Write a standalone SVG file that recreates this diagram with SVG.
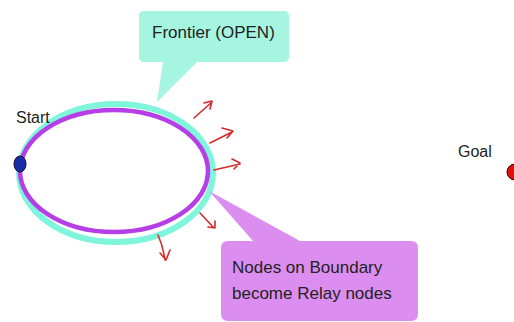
<svg xmlns="http://www.w3.org/2000/svg" width="514" height="322" viewBox="0 0 514 322">
<style>
text{font-family:"Liberation Sans",Arial,sans-serif;fill:#222}
.lbl{font-size:16px}
.cl{font-size:17px}
.arr{fill:none;stroke:#d42a2a;stroke-width:1.6;stroke-linecap:round;stroke-linejoin:round}
</style>
<rect width="514" height="322" fill="#fff"/>
<g id="frontier">
<ellipse cx="116" cy="173" rx="97" ry="69" fill="none" stroke="#7ff5dc" stroke-width="6"/>
<ellipse cx="114" cy="171" rx="94" ry="61" fill="none" stroke="#b53ee6" stroke-width="4.5"/>
</g>
<g id="frontier-callout">
<path d="M144 11 H284 Q289 11 289 16 V57 Q289 62 284 62 H197 L157 102 L163 62 H144 Q139 62 139 57 V16 Q139 11 144 11 Z" fill="#a6f5e1"/>
<text class="cl" x="152" y="38">Frontier (OPEN)</text>
</g>
<g id="relay-callout">
<path d="M228 241 H253 L209 191 L300 241 H411 Q418 241 418 248 V314 Q418 321 411 321 H228 Q221 321 221 314 V248 Q221 241 228 241 Z" fill="#dc8ef0"/>
<text class="cl" x="232" y="273">Nodes on Boundary</text>
<text class="cl" x="232" y="299">become Relay nodes</text>
</g>
<g id="start">
<ellipse cx="20" cy="164" rx="6" ry="8" fill="#1c2ca8" stroke="#101030" stroke-width="1"/>
<text class="lbl" x="16" y="123">Start</text>
</g>
<g id="goal">
<circle cx="515" cy="172" r="8" fill="#e01010" stroke="#400" stroke-width="1"/>
<text class="lbl" x="458" y="157">Goal</text>
</g>
<g id="connectors">
<path class="arr" d="M194 118 L212 102 M204 103 L212 101 L210 109"/>
<path class="arr" d="M210 143 L232 132 M222 128 L233 131 L227 138"/>
<path class="arr" d="M214 170 L240 164 M232 159 L240 163 L234 169"/>
<path class="arr" d="M200 213 L214 228 M208 227 L215 228 L215 221"/>
<path class="arr" d="M158 235 Q163 246 165 260 M160 253 L166 260 L170 250"/>
</g>
</svg>
